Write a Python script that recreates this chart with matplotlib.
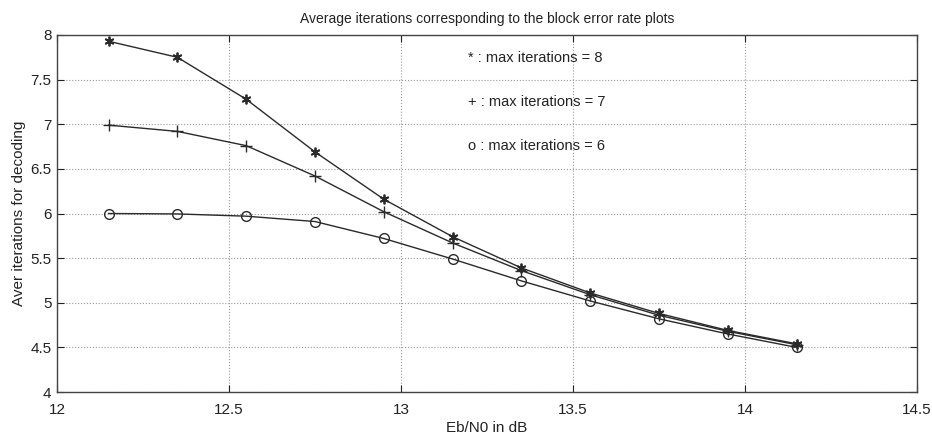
import numpy as np
import matplotlib
matplotlib.use("Agg")
import matplotlib.pyplot as plt

plt.rcParams["font.family"] = ["Liberation Sans", "DejaVu Sans"]

ebn0 = [12.15, 12.35, 12.55, 12.75, 12.95, 13.15, 13.35, 13.55, 13.75, 13.95, 14.15]
iters_max8 = [7.93, 7.75, 7.28, 6.69, 6.16, 5.74, 5.39, 5.11, 4.88, 4.69, 4.54]
iters_max7 = [6.99, 6.92, 6.76, 6.42, 6.02, 5.67, 5.36, 5.09, 4.86, 4.68, 4.53]
iters_max6 = [6.00, 5.995, 5.97, 5.91, 5.72, 5.49, 5.245, 5.02, 4.82, 4.65, 4.50]

legend_lines = ["* : max iterations = 8", "+ : max iterations = 7", "o : max iterations = 6"]
legend_y = [7.74, 7.25, 6.76]

fig = plt.figure(figsize=(9.32, 4.37), dpi=100)
ax = fig.add_axes([57 / 932, 1 - 392 / 437, 860 / 932, 357 / 437])

lc = "#2a2a2a"
ax.plot(ebn0, iters_max8, color=lc, lw=1.0, marker=(6, 2, 0), ms=7, mew=1.3)
ax.plot(ebn0, iters_max7, color=lc, lw=1.0, marker="+", ms=8, mew=1.0)
ax.plot(ebn0, iters_max6, color=lc, lw=1.0, marker="o", ms=7, mfc="none", mew=1.0)

for txt, yy in zip(legend_lines, legend_y):
    ax.text(13.195, yy, txt, fontsize=10.5, color="#222222", ha="left", va="center")

ax.set_xlim(12, 14.5)
ax.set_ylim(4, 8)
ax.set_xticks([12, 12.5, 13, 13.5, 14, 14.5])
ax.set_xticklabels(["12", "12.5", "13", "13.5", "14", "14.5"])
ax.set_yticks([4, 4.5, 5, 5.5, 6, 6.5, 7, 7.5, 8])
ax.set_yticklabels(["4", "4.5", "5", "5.5", "6", "6.5", "7", "7.5", "8"])
ax.tick_params(direction="in", length=5, labelsize=11, colors="#222222",
               top=True, right=True)
ax.tick_params(axis="x", pad=8)
ax.tick_params(axis="y", pad=4)
ax.grid(True, color="#999999", linestyle=":", linewidth=0.8)
for s in ax.spines.values():
    s.set_color("#444444")
    s.set_linewidth(1.0)

ax.set_title("Average iterations corresponding to the block error rate plots",
             fontsize=10, color="#222222", pad=9)
ax.set_xlabel("Eb/N0 in dB", fontsize=11, color="#222222", labelpad=3)
ax.set_ylabel("Aver iterations for decoding", fontsize=11, color="#222222", labelpad=3)

fig.savefig("out.png", dpi=100)
